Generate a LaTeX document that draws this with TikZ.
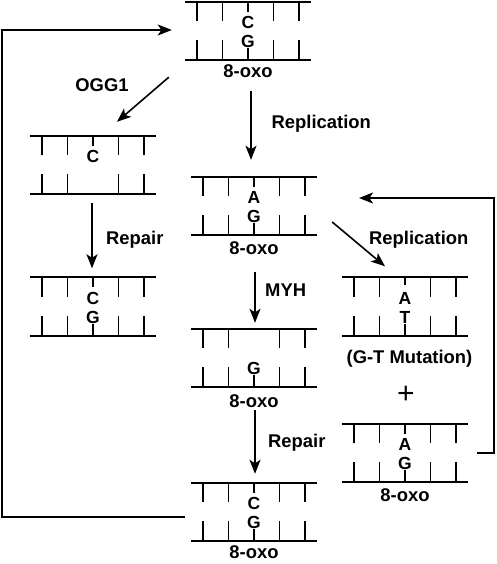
\documentclass[tikz,border=0pt]{standalone}
\usepackage{fontspec}
\setmainfont{Liberation Sans}
\usetikzlibrary{arrows.meta,calc}

\begin{document}
\begin{tikzpicture}[x=1pt,y=-1pt,
    dna/.style={minimum width=126pt,minimum height=58pt,inner sep=0pt},
    strand/.style={line width=1.8pt},
    nuc/.style={font=\fontsize{17.5}{18}\selectfont\bfseries,inner sep=0pt,text height=12.6pt,text depth=0pt},
    lbl/.style={font=\fontsize{18.4}{20}\selectfont\bfseries,inner sep=0pt,text height=13.2pt,text depth=0pt},
    arrow/.style={line width=1.6pt,-{Stealth[length=14pt,width=11pt,inset=3.5pt]}}]
    \useasboundingbox (0,0) rectangle (496,564);
    % DNA pieces
    \node[dna] (T) at (248,31) {};
    \node[dna] (L1) at (93,165) {};
    \node[dna] (L2) at (93,306.5) {};
    \node[dna] (M1) at (254,206) {};
    \node[dna] (M2) at (254,358) {};
    \node[dna] (M3) at (254,512) {};
    \node[dna] (R1) at (405,306.5) {};
    \node[dna] (R2) at (405,453) {};
    % Strands and ticks
    \foreach \nm in {T,L1,L2,M1,M2,M3,R1,R2} {
        \draw[strand] (\nm.north west) -- (\nm.north east);
        \draw[strand] (\nm.south west) -- (\nm.south east);
        \foreach \dx in {-51,-25.5,25.5,51} {
            \draw[strand] ($(\nm.north)+(\dx,0)$) -- ++(0,19.5);
            \draw[strand] ($(\nm.south)+(\dx,0)$) -- ++(0,-20);
        }
    }
    % Middle ticks
    \foreach \nm in {T,L1,L2,M1,M3,R2} {
        \draw[strand] (\nm.north) -- ++(0,10);
    }
    \draw[strand] (R1.north) -- ++(0,8);
    \foreach \nm in {T,L2,M1,M2,M3,R1,R2} {
        \draw[strand] (\nm.south) -- ++(0,-12);
    }
    % Bases
    \node[nuc] (T-a) at ($(T)+(0,-8.5)$) {C};
    \node[nuc] (T-b) at ($(T)+(0,10.5)$) {G};
    \node[nuc] (L1-a) at ($(L1)+(0,-8.5)$) {C};
    \node[nuc] (L2-a) at ($(L2)+(0,-8.5)$) {C};
    \node[nuc] (L2-b) at ($(L2)+(0,10.5)$) {G};
    \node[nuc] (M1-a) at ($(M1)+(0,-8.5)$) {A};
    \node[nuc] (M1-b) at ($(M1)+(0,10.5)$) {G};
    \node[nuc] (M2-b) at ($(M2)+(0,10.5)$) {G};
    \node[nuc] (M3-a) at ($(M3)+(0,-8.5)$) {C};
    \node[nuc] (M3-b) at ($(M3)+(0,10.5)$) {G};
    \node[nuc] (R1-a) at ($(R1)+(0,-8.5)$) {A};
    \node[nuc] (R1-b) at ($(R1)+(0,10.5)$) {T};
    \node[nuc] (R2-a) at ($(R2)+(0,-8.5)$) {A};
    \node[nuc] (R2-b) at ($(R2)+(0,10.5)$) {G};
    % 8-oxo labels
    \node[lbl] (T-ox) at (248,71) {8-oxo};
    \node[lbl] (M1-ox) at (254,248) {8-oxo};
    \node[lbl] (M2-ox) at (254,401) {8-oxo};
    \node[lbl] (M3-ox) at (254,552) {8-oxo};
    \node[lbl] (R2-ox) at (405,495) {8-oxo};
    % Step labels
    \node[lbl] (ogg) at (102,85) {OGG1};
    \node[lbl,anchor=west] (rep1) at (271.5,122) {Replication};
    \node[lbl,anchor=west] (fix1) at (106,238) {Repair};
    \node[lbl,anchor=west] (myh) at (265,290) {MYH};
    \node[lbl,anchor=west] (fix2) at (268,441) {Repair};
    \node[lbl,anchor=west] (rep2) at (369,238) {Replication};
    \node[lbl] (mut) at (409.5,357) {(G-T Mutation)};
    \node[font=\fontsize{30}{30}\selectfont,inner sep=0pt] (plus) at (406,395) {+};
    % Arrows
    \draw[arrow] ($(T.south)+(3,31)$) -- ($(M1.north)+(-3,-17)$);
    \draw[arrow] ($(T.south west)+(-16,17)$) -- ($(L1.north)+(24,-14)$);
    \draw[arrow] ($(L1.south)+(-1,9)$) -- ($(L2.north)+(-1,-9)$);
    \draw[arrow] ($(M1.south)+(1,37)$) -- ($(M2.north)+(1,-6)$);
    \draw[arrow] ($(M2.south)+(1,23)$) -- ($(M3.north)+(1,-9)$);
    \draw[arrow] ($(M1.east)+(15,16)$) -- ($(R1.north)+(-20,-11)$);
    % Loops back
    \coordinate (loopR) at (494,198);
    \coordinate (back) at (359,198);
    \draw[arrow] ($(R2.east)+(9,0)$) -| (loopR) -- (back);
    \coordinate (loopL) at (2,30);
    \draw[arrow] ($(M3.west)+(-6,5)$) -| (loopL) -- ($(T.west)+(-13,-1)$);
\end{tikzpicture}
\end{document}
